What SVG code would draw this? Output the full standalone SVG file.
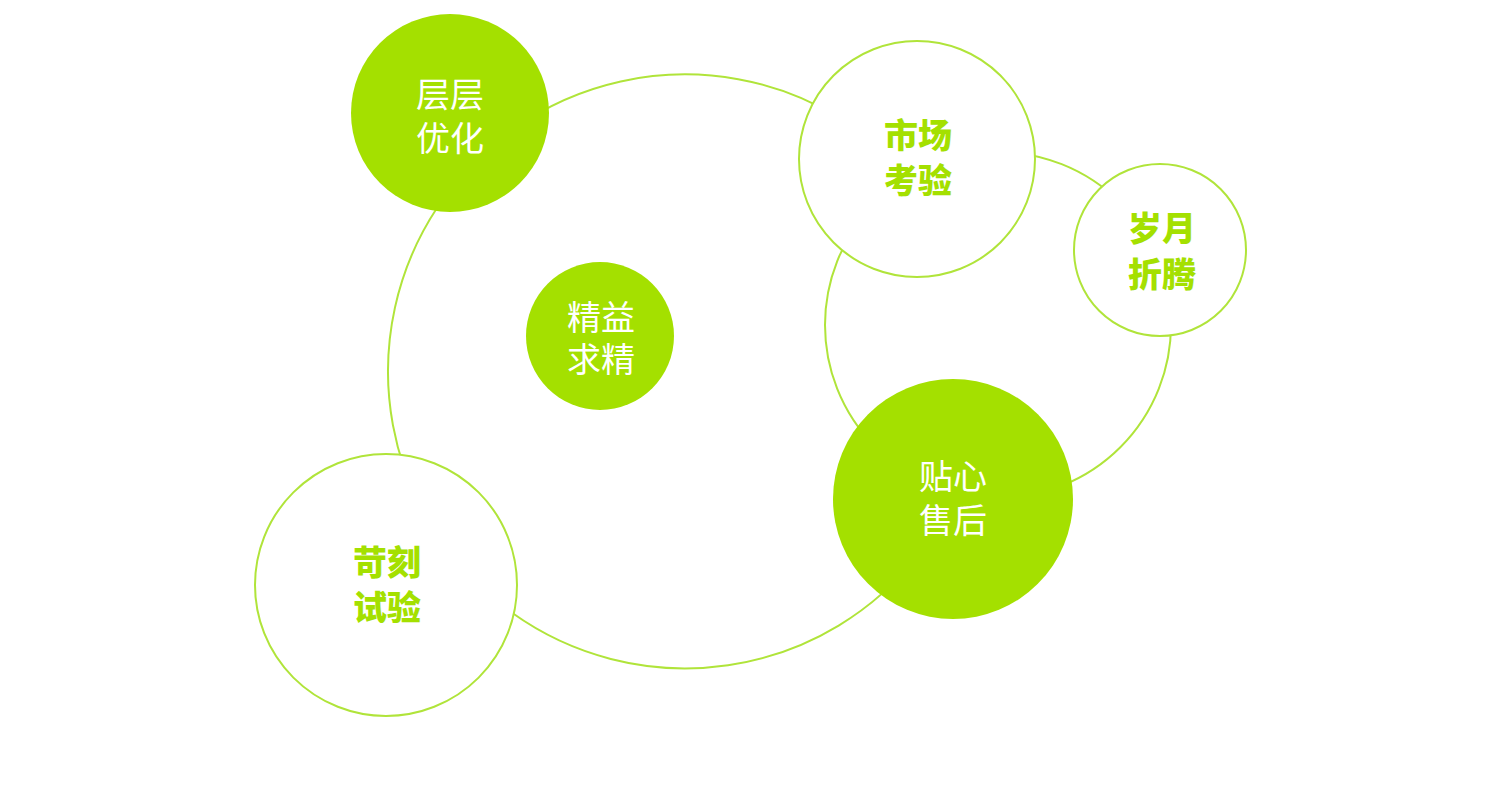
<svg xmlns="http://www.w3.org/2000/svg" width="1500" height="798" viewBox="0 0 1500 798">
<style>
.ring{fill:none;stroke:#b0e43a;stroke-width:2}
.fill{fill:#a4e000}
.out{fill:#ffffff;stroke:#b0e43a;stroke-width:2}
.tw{font-family:"Noto Sans CJK SC","Noto Sans",sans-serif;font-size:34px;fill:#ffffff;text-anchor:middle;font-weight:400}
.tg{font-family:"Noto Sans CJK SC","Noto Sans",sans-serif;font-size:34px;fill:#a4e000;text-anchor:middle;font-weight:900}
</style>
<rect width="1500" height="798" fill="#ffffff"/>
<g id="connectors">
<path class="ring" d="M 840 118 A 297 297 0 1 0 920 553"/>
<circle class="ring" cx="998" cy="325" r="173"/>
</g>
<g id="node-cengceng">
<circle class="fill" cx="450" cy="113" r="99"/>
<text class="tw" x="450" y="107">层层</text>
<text class="tw" x="450" y="151">优化</text>
</g>
<g id="node-jingyi">
<circle class="fill" cx="600" cy="336" r="74"/>
<text class="tw" x="601" y="330">精益</text>
<text class="tw" x="601" y="372">求精</text>
</g>
<g id="node-shichang">
<circle class="out" cx="917" cy="159" r="118"/>
<text class="tg" x="918" y="148">市场</text>
<text class="tg" x="918" y="193">考验</text>
</g>
<g id="node-suiyue">
<circle class="out" cx="1160" cy="250" r="86"/>
<text class="tg" x="1162" y="241">岁月</text>
<text class="tg" x="1162" y="287">折腾</text>
</g>
<g id="node-tiexin">
<circle class="fill" cx="953" cy="499" r="120"/>
<text class="tw" x="953" y="489">贴心</text>
<text class="tw" x="953" y="533">售后</text>
</g>
<g id="node-keke">
<circle class="out" cx="386" cy="585" r="131"/>
<text class="tg" x="387" y="575">苛刻</text>
<text class="tg" x="387" y="620">试验</text>
</g>
</svg>
